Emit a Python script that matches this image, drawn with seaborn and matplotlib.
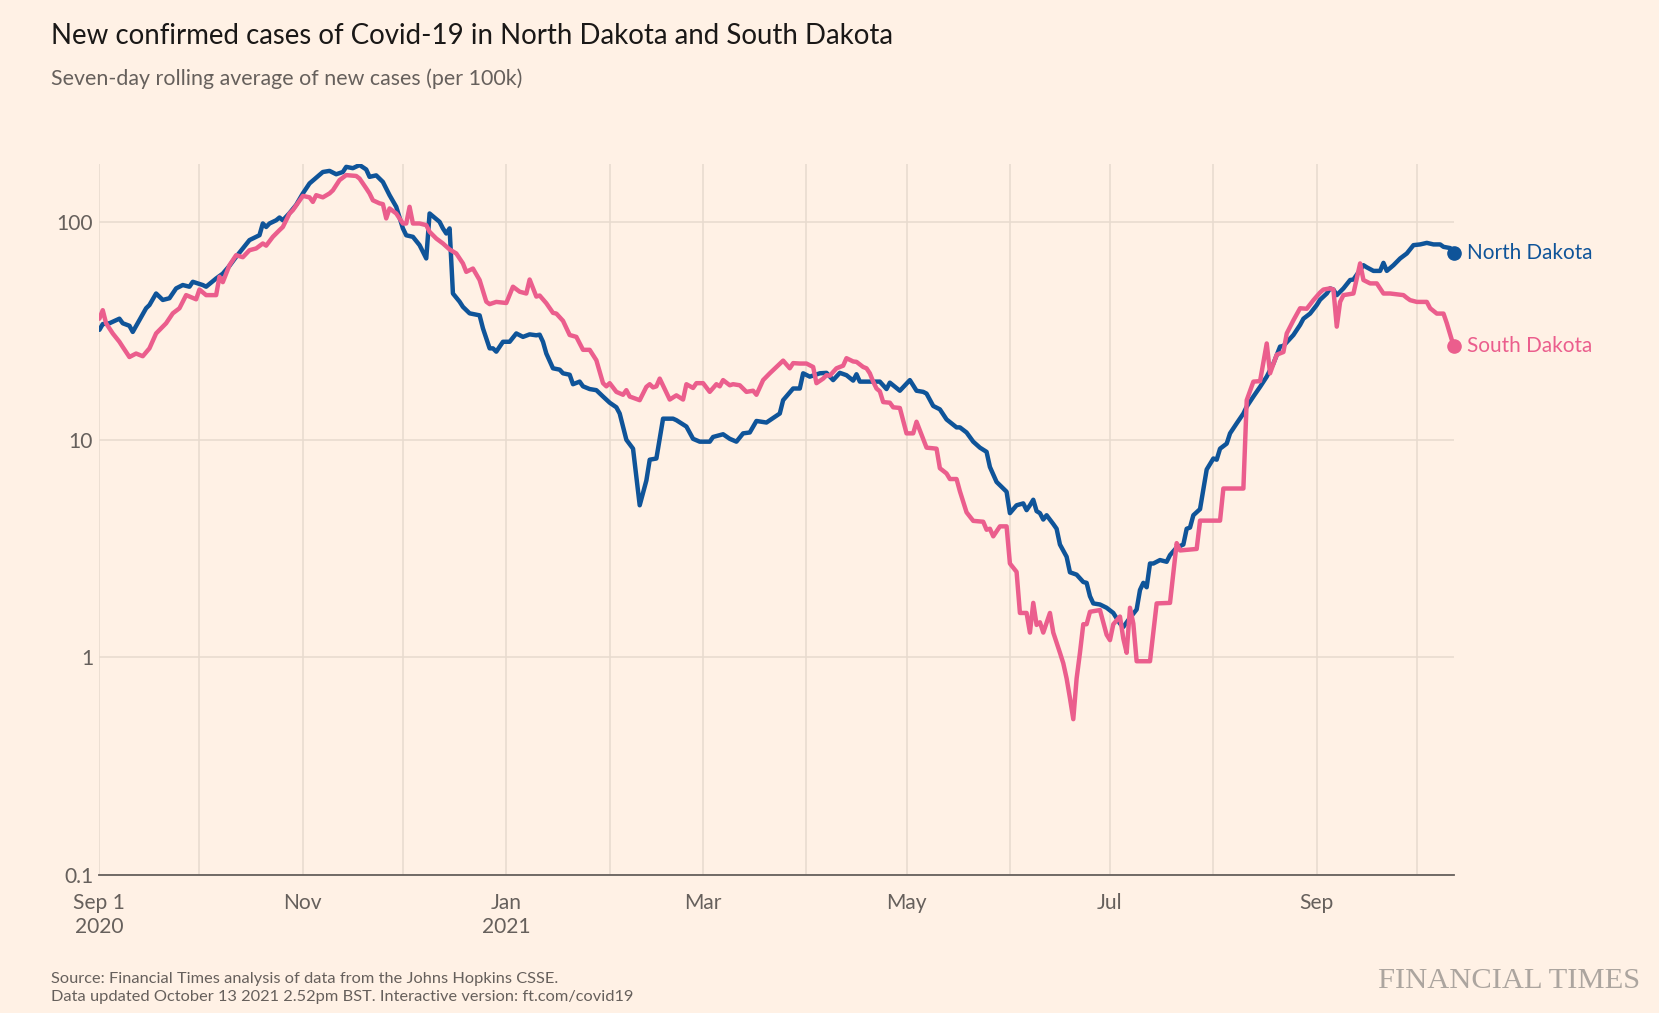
import numpy as np
import pandas as pd
import matplotlib
matplotlib.use("Agg")
import matplotlib.pyplot as plt
from matplotlib.ticker import NullLocator
import seaborn as sns

# ---------------- data ----------------
# days since 1 Sep 2020, seven-day rolling average of new cases per 100k
nd_days = [0, 1, 3, 6, 7, 9, 10, 14, 15, 17,
           19, 21, 23, 25, 27, 28, 31, 32, 35, 37,
           39, 41, 43, 45, 48, 49, 50, 51, 53, 54,
           55, 57, 59, 61, 63, 65, 67, 69, 71, 73,
           74, 76, 78, 80, 81, 83, 85, 86, 87, 89,
           91, 92, 94, 96, 98, 99, 102, 103, 104, 105,
           106, 108, 109, 111, 114, 115, 117, 118, 119, 121,
           123, 125, 127, 129, 131, 132, 133, 134, 136, 138,
           139, 141, 142, 144, 145, 147, 149, 151, 153, 155,
           156, 158, 160, 162, 164, 165, 167, 169, 172, 173,
           176, 178, 180, 183, 184, 187, 189, 191, 193, 195,
           197, 200, 204, 205, 208, 210, 211, 213, 216, 218,
           220, 222, 224, 226, 227, 228, 230, 232, 234, 236,
           237, 240, 243, 245, 247, 248, 250, 252, 254, 257,
           258, 260, 262, 264, 266, 267, 269, 272, 273, 275,
           277, 278, 279, 280, 281, 282, 283, 284, 286, 287,
           288, 290, 291, 293, 295, 296, 297, 298, 300, 301,
           302, 304, 306, 307, 309, 311, 312, 313, 314, 315,
           316, 318, 320, 321, 323, 325, 326, 327, 328, 330,
           331, 332, 334, 335, 336, 338, 339, 341, 343, 344,
           346, 348, 350, 352, 354, 355, 358, 360, 361, 363,
           365, 366, 368, 369, 370, 371, 373, 375, 376, 379,
           380, 382, 384, 385, 386, 388, 390, 392, 394, 396,
           398, 400, 402, 403, 405, 406]
nd_values = [32, 34, 34.3, 36, 34.3, 33.4, 31.3, 40.2, 41.6, 47,
             43.9, 44.7, 49.6, 51.4, 50.5, 53.2, 51.4, 50.5, 55.1, 58,
             63, 69.3, 75.7, 82.7, 87.1, 98.6, 95, 98.6, 102, 105,
             102, 110, 120, 135.5, 150.6, 160, 170, 172, 166, 170,
             179.5, 177, 183, 174.6, 161.5, 164, 153, 142.8, 133, 117.6,
             93.6, 87, 85.6, 78.4, 68.1, 109.6, 100.3, 93.6, 88.7, 93.6,
             47, 43.1, 40.8, 38.1, 37.3, 32.5, 26.3, 26.3, 25.4, 28.2,
             28.2, 30.8, 29.7, 30.5, 30.2, 30.4, 28.2, 24.9, 21.3, 21.0,
             20.2, 19.9, 18.0, 18.5, 17.6, 17.1, 16.9, 15.8, 14.8, 14.1,
             13.2, 10.0, 9.1, 5.0, 6.5, 8.1, 8.2, 12.5, 12.5, 12.3,
             11.5, 10.1, 9.8, 9.8, 10.3, 10.6, 10.1, 9.8, 10.7, 10.8,
             12.2, 12.0, 13.2, 15.2, 17.2, 17.2, 20.2, 19.5, 20.2, 20.3,
             18.8, 20.3, 19.8, 18.7, 20.0, 18.5, 18.5, 18.5, 18.5, 17.1,
             18.3, 16.8, 18.8, 16.8, 16.6, 16.3, 14.3, 13.8, 12.4, 11.4,
             11.4, 10.8, 9.8, 9.2, 8.8, 7.5, 6.4, 5.77, 4.6, 5.0,
             5.1, 4.75, 5.0, 5.3, 4.7, 4.6, 4.3, 4.5, 4.1, 3.9,
             3.3, 2.9, 2.46, 2.4, 2.22, 2.2, 1.91, 1.77, 1.75, 1.72,
             1.69, 1.6, 1.43, 1.38, 1.52, 1.66, 2.04, 2.2, 2.1, 2.7,
             2.7, 2.8, 2.75, 2.95, 3.2, 3.3, 3.9, 3.95, 4.5, 4.8,
             5.9, 7.3, 8.2, 8.1, 9.1, 9.6, 10.7, 11.9, 13.2, 14.2,
             15.8, 17.5, 19.5, 22.4, 26.8, 27.0, 30.3, 33.7, 36.0, 38.0,
             41.6, 44.0, 47.0, 49.6, 49.0, 46.2, 49.6, 54.2, 54.5, 63.4,
             62.0, 59.7, 59.7, 65.0, 59.7, 63.4, 68.1, 71.8, 78.4, 79.0,
             80.3, 79.0, 79.0, 77.0, 76.0, 72.3]

sd_days = [0, 1, 2, 4, 6, 7, 9, 11, 13, 15,
           17, 19, 20, 22, 24, 26, 29, 30, 32, 35,
           36, 37, 39, 41, 43, 45, 47, 49, 50, 52,
           54, 55, 57, 58, 61, 63, 64, 65, 67, 69,
           70, 72, 74, 77, 78, 80, 81, 82, 84, 85,
           86, 87, 89, 91, 92, 93, 94, 96, 98, 99,
           101, 103, 105, 107, 109, 110, 112, 114, 116, 117,
           119, 122, 124, 126, 128, 129, 131, 132, 134, 136,
           137, 139, 141, 143, 145, 147, 149, 151, 152, 153,
           155, 157, 158, 159, 162, 164, 165, 166, 167, 168,
           171, 173, 175, 176, 178, 179, 181, 183, 185, 186,
           187, 189, 190, 192, 194, 196, 197, 199, 201, 203,
           205, 207, 208, 210, 212, 214, 215, 217, 218, 219,
           221, 223, 224, 226, 227, 229, 230, 231, 232, 233,
           234, 235, 237, 238, 240, 242, 244, 245, 248, 251,
           252, 254, 255, 257, 258, 260, 262, 265, 266, 267,
           268, 270, 272, 273, 275, 276, 278, 279, 280, 281,
           282, 283, 285, 286, 288, 289, 290, 291, 292, 293,
           294, 295, 296, 297, 300, 302, 303, 304, 306, 307,
           308, 309, 310, 311, 315, 317, 321, 323, 324, 329,
           330, 336, 337, 343, 344, 346, 348, 350, 351, 353,
           355, 356, 358, 360, 362, 364, 366, 367, 369, 370,
           371, 372, 373, 376, 378, 379, 381, 383, 385, 387,
           389, 391, 392, 393, 395, 398, 399, 401, 403, 404,
           406]
sd_values = [36, 39.4, 34.3, 30.8, 28.2, 26.7, 24.0, 24.9, 24.2, 26.3,
             30.8, 33.1, 34.3, 38.1, 40.2, 46.2, 44.2, 49.0, 46.2, 46.2,
             56.1, 53.0, 63.4, 70.5, 69.0, 74.3, 75.7, 79.8, 78.0, 85.6,
             91.9, 95.0, 109.6, 113.5, 132, 130, 123.9, 133, 130, 135.5,
             140, 156, 164.5, 163, 158.6, 143, 135.5, 126, 122, 121,
             104, 115.6, 109.6, 98.6, 98.6, 117.6, 98.6, 98.6, 96.9, 90.3,
             84.1, 79.8, 74.9, 71.8, 64.6, 59.1, 61.2, 54.2, 43.1, 42.0,
             43.0, 42.5, 50.5, 47.9, 47.0, 54.5, 45.5, 46.0, 42.4, 38.3,
             38.0, 35.2, 30.3, 29.7, 25.9, 25.9, 23.2, 18.2, 17.6, 18.2,
             16.6, 16.1, 16.9, 15.8, 15.2, 17.5, 18.0, 17.4, 17.6, 19.1,
             15.3, 16.0, 15.3, 18.0, 17.3, 18.2, 18.2, 16.6, 18.0, 17.6,
             18.8, 17.8, 18.0, 17.8, 16.6, 16.8, 16.1, 18.8, 20.2, 21.6,
             23.1, 21.3, 22.5, 22.4, 22.4, 21.6, 18.2, 19.1, 19.8, 19.7,
             21.3, 21.9, 23.7, 22.9, 22.8, 21.6, 21.3, 20.2, 18.5, 17.2,
             16.7, 14.9, 14.8, 14.1, 14.0, 10.7, 10.7, 12.1, 9.2, 9.1,
             7.4, 7.0, 6.6, 6.6, 5.8, 4.64, 4.24, 4.2, 3.86, 3.9,
             3.6, 4.0, 4.0, 2.7, 2.47, 1.6, 1.6, 1.3, 1.78, 1.41,
             1.45, 1.3, 1.6, 1.3, 1.05, 0.94, 0.8, 0.65, 0.52, 0.8,
             1.05, 1.42, 1.42, 1.62, 1.65, 1.27, 1.2, 1.42, 1.54, 1.22,
             1.05, 1.69, 1.43, 0.96, 0.96, 1.77, 1.78, 3.35, 3.1, 3.15,
             4.25, 4.25, 5.97, 5.97, 15.2, 18.5, 18.6, 27.7, 20.2, 24.6,
             25.3, 30.8, 35.4, 40.2, 40.0, 43.8, 47.5, 49.0, 49.6, 49.0,
             33.1, 43.0, 46.2, 47.0, 64.6, 54.2, 52.3, 52.3, 47.0, 47.0,
             46.6, 46.2, 44.9, 43.8, 43.0, 43.0, 40.2, 38.0, 38.0, 34.3,
             27.1]

states = ["North Dakota", "South Dakota"]
y_ticks = [0.1, 1, 10, 100]
y_tick_labels = ["0.1", "1", "10", "100"]
x_tick_labels = ["Sep 1\n2020", "", "Nov", "", "Jan\n2021", "", "Mar", "",
                 "May", "", "Jul", "", "Sep", ""]

title = "New confirmed cases of Covid-19 in North Dakota and South Dakota"
subtitle = "Seven-day rolling average of new cases (per 100k)"
source1 = "Source: Financial Times analysis of data from the Johns Hopkins CSSE."
source2 = "Data updated October 13 2021 2.52pm BST. Interactive version: ft.com/covid19"
brand = "FINANCIAL TIMES"

# ---------------- style ----------------
BG = "#fff1e5"
BLUE = "#0f5499"
PINK = "#eb5e8d"
GRID = "#e7dace"
TXT = "#66605c"

sns.set_theme(style="white")
plt.rcParams["font.family"] = ["Lato", "DejaVu Sans"]

W, H = 1659, 1013
fig = plt.figure(figsize=(W / 100, H / 100), dpi=100, facecolor=BG)
ax = fig.add_axes([99.4 / W, 1 - 875 / H, (1453.5 - 99.4) / W, (875 - 164) / H])
ax.set_facecolor(BG)

start = pd.Timestamp("2020-09-01")
nd = pd.DataFrame({"date": start + pd.to_timedelta(nd_days, unit="D"),
                   "value": nd_values, "state": states[0]})
sd = pd.DataFrame({"date": start + pd.to_timedelta(sd_days, unit="D"),
                   "value": sd_values, "state": states[1]})
df = pd.concat([nd, sd], ignore_index=True)

sns.lineplot(data=df, x="date", y="value", hue="state", hue_order=states,
             palette={states[0]: BLUE, states[1]: PINK}, linewidth=3.2,
             estimator=None, legend=False, ax=ax)
for ln in ax.lines:
    ln.set_solid_joinstyle("round")
    ln.set_solid_capstyle("round")

ax.set_yscale("log")
ax.set_ylim(0.1, 185)
end = start + pd.Timedelta(days=406)
ax.set_xlim(start, end)

ax.set_yticks(y_ticks)
ax.set_yticklabels(y_tick_labels)
ax.yaxis.set_minor_locator(NullLocator())
months = pd.date_range("2020-09-01", "2021-10-01", freq="MS")
ax.set_xticks(months)
ax.set_xticklabels(x_tick_labels)
ax.xaxis.set_minor_locator(NullLocator())

ax.grid(True, which="major", color=GRID, linewidth=1.1)
ax.set_axisbelow(True)
for s in ["top", "right", "left"]:
    ax.spines[s].set_visible(False)
ax.spines["bottom"].set_color(TXT)
ax.spines["bottom"].set_linewidth(1.3)
ax.set_xlabel("")
ax.set_ylabel("")
ax.tick_params(axis="both", length=0, labelcolor=TXT)
ax.tick_params(axis="x", pad=13)
ax.tick_params(axis="y", pad=4.5)

# end markers and labels
ends = []
for frame, col in [(nd, BLUE), (sd, PINK)]:
    d, v = frame["date"].iloc[-1], frame["value"].iloc[-1]
    ax.plot([d], [v], "o", color=col, markersize=9.5, clip_on=False, zorder=6)
    t = ax.annotate(frame["state"].iloc[0], xy=(d, v), xytext=(10, 0),
                    textcoords="offset points", va="center", ha="left",
                    color=col, fontsize=14, annotation_clip=False)
    ends.append(t)

# texts
t_title = fig.text(51 / W, 1 - 43.5 / H, title, color="#1a1817", fontsize=20,
                   va="baseline", ha="left")
t_sub = fig.text(51 / W, 1 - 85 / H, subtitle, color=TXT, fontsize=14,
                 va="baseline", ha="left")
t_s1 = fig.text(51 / W, 1 - 983 / H, source1, color=TXT, fontsize=11,
                va="baseline", ha="left")
t_s2 = fig.text(51 / W, 1 - 1001 / H, source2, color=TXT, fontsize=11,
                va="baseline", ha="left")
t_ft = fig.text(1640 / W, 1 - 988 / H, brand, color="#aca59f", fontsize=18,
                va="baseline", ha="right", family=["Liberation Serif", "DejaVu Serif"])

fig.canvas.draw()
renderer = fig.canvas.get_renderer()


def fit_width(t, target):
    for _ in range(3):
        w = t.get_window_extent(renderer).width
        t.set_fontsize(t.get_fontsize() * target / w)


fit_width(t_title, 840)
fit_width(t_sub, 471)
fit_width(t_s1, 507)
fit_width(t_s2, 580)
fit_width(t_ft, 261)
for t in ends:
    fit_width(t, 125)

# tick label size from the reference width of "Sep 1"
probe = fig.text(0, 0, "Sep 1", fontsize=10)
w = probe.get_window_extent(renderer).width
tick_fs = 10 * 52 / w
probe.remove()
for lab in ax.get_xticklabels() + ax.get_yticklabels():
    lab.set_fontsize(tick_fs)
    lab.set_linespacing(1.25)

fig.savefig("out.png", dpi=100, facecolor=BG)
